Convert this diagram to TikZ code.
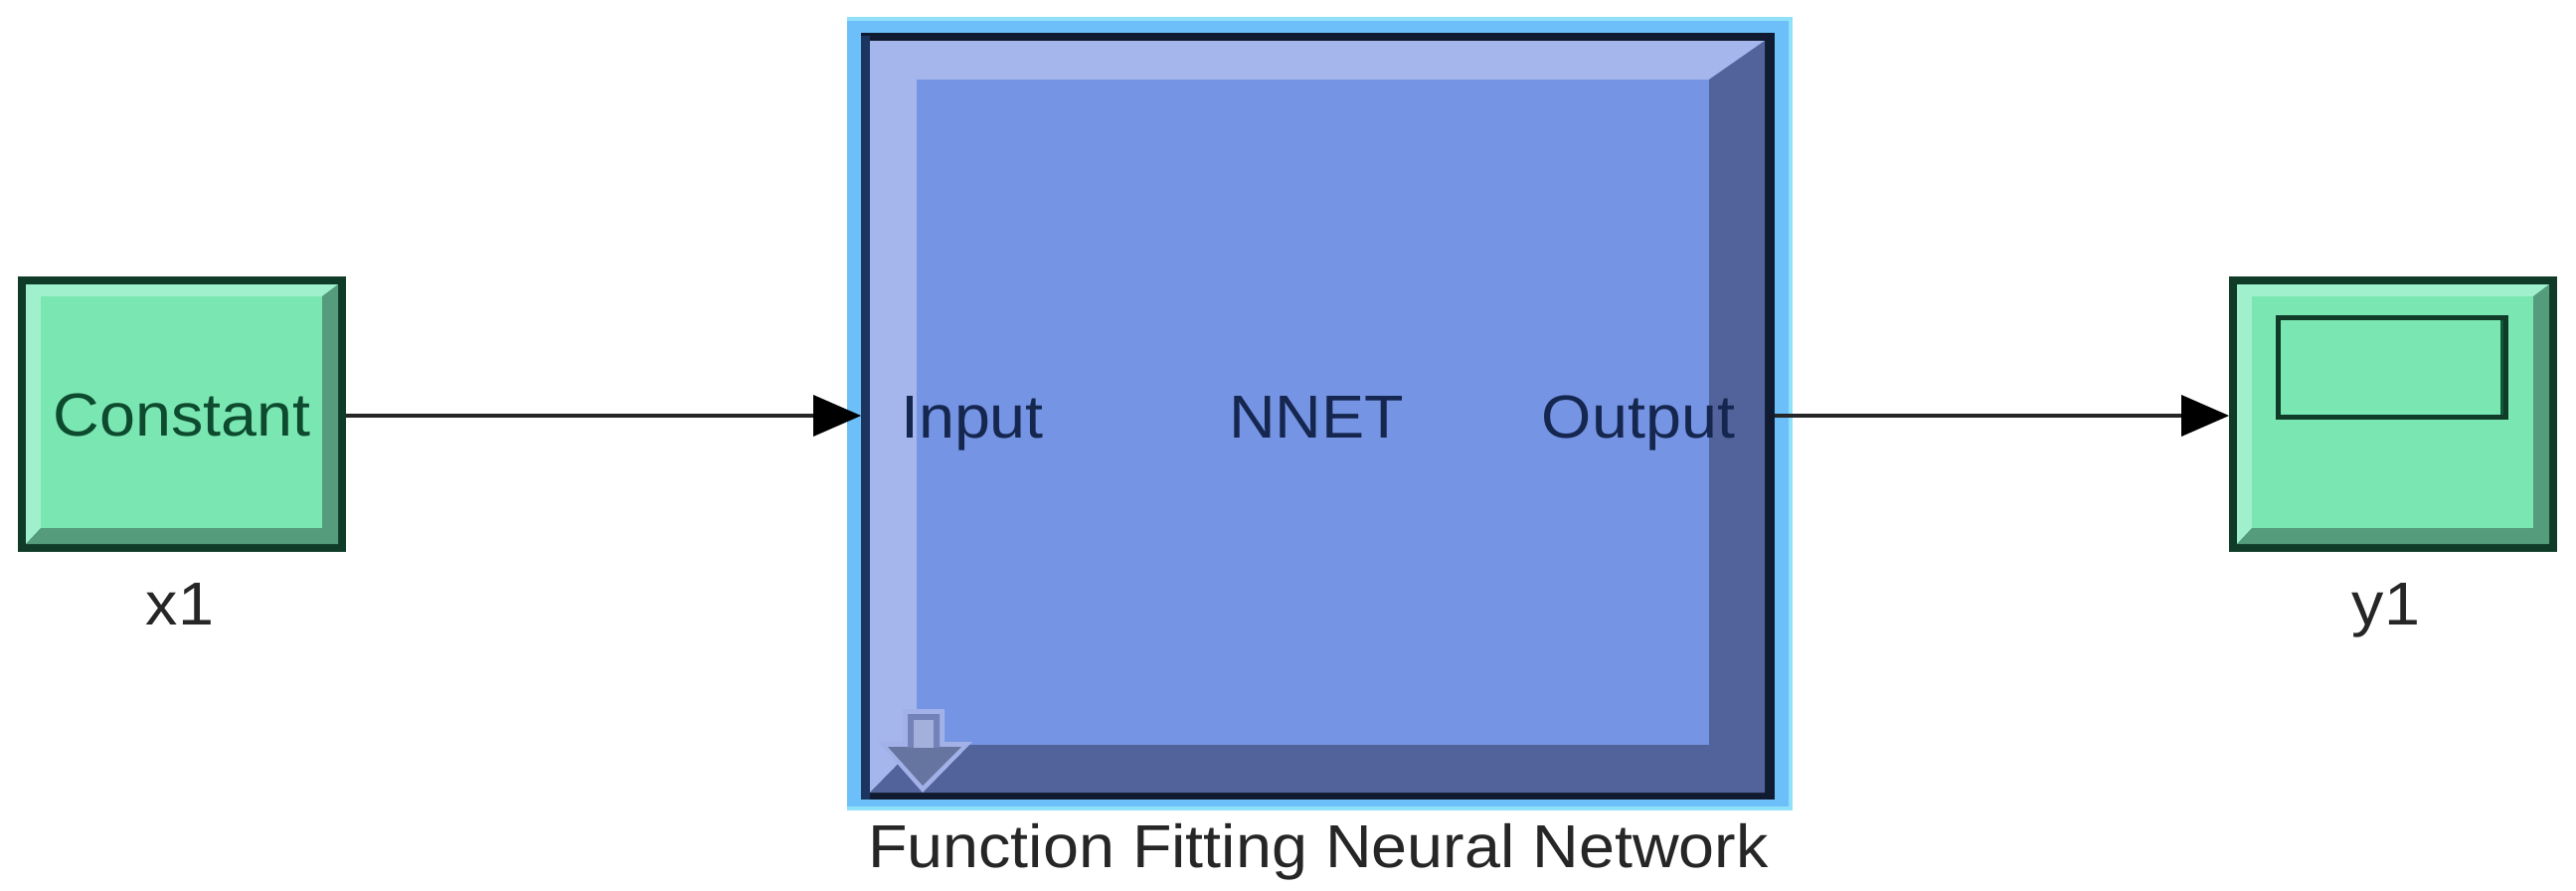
\documentclass[tikz,border=0pt]{standalone}
\usepackage{fontspec}
\setmainfont[FakeStretch=1.06]{Liberation Sans}
\usetikzlibrary{arrows.meta}
\definecolor{mint}{HTML}{7AE7B2}
\definecolor{mintlight}{HTML}{A0F0CE}
\definecolor{mintdark}{HTML}{559C7C}
\definecolor{mintline}{HTML}{0F3B28}
\definecolor{minttext}{HTML}{0D4A2E}
\definecolor{mintshade}{HTML}{0E5A37}
\definecolor{nnface}{HTML}{7594E3}
\definecolor{nnlight}{HTML}{A5B6EC}
\definecolor{nndark}{HTML}{51639A}
\definecolor{nnline}{HTML}{101A30}
\definecolor{nnleft}{HTML}{1B3560}
\definecolor{nntext}{HTML}{15264F}
\definecolor{halo}{HTML}{6CBFF8}
\definecolor{halolight}{HTML}{90E0FA}
\definecolor{txt}{HTML}{262626}
\definecolor{iconrim}{HTML}{A2B2E8}
\definecolor{iconframe}{HTML}{7382B8}
\definecolor{iconstem}{HTML}{A3B0DC}
\definecolor{iconhead}{HTML}{66759F}
\tikzset{
  labeltext/.style={font=\fontsize{30.5}{34}\selectfont, text=txt, inner sep=0pt, anchor=base},
  conn/.style={draw=black!85, line width=1.6pt, -{Triangle[length=24pt,width=21pt,fill=black,color=black,line width=0pt]}},
}
\begin{document}
\begin{tikzpicture}[x=0.5pt,y=-0.5pt]
\useasboundingbox (0,0) rectangle (2591,895);
% --- source block
\fill[mintline] (18,278) rectangle (348,555);
\fill[mintlight] (26,286) rectangle (340,547);
\fill[mintdark] (340,286) -- (324,298) -- (41,531) -- (26,547) -- (340,547) -- cycle;
\fill[mint] (41,298) rectangle (324,531);
\coordinate (src) at (348,418);
% --- NNET block
\fill[halolight] (852,17) rectangle (1803,815);
\fill[halo] (852,21) rectangle (1799,811);
\fill[nnline] (866,33) rectangle (1785,804);
\fill[nnleft] (866,36) rectangle (875,804);
\fill[nnlight] (875,41) rectangle (1775,797);
\fill[nndark] (1775,41) -- (1719,80) -- (922,749) -- (875,797) -- (1775,797) -- cycle;
\fill[nnface] (922,80) rectangle (1719,749);
\coordinate (nnin) at (866,418);
\coordinate (nnout) at (1785,418);
% mask icon
\fill[iconrim] (908,713) -- (950,713) -- (950,746) -- (978,746) -- (928,797) -- (883,746) -- (908,746) -- cycle;
\fill[iconhead] (913,718) -- (945,718) -- (945,751) -- (967,751) -- (928,790) -- (893,751) -- (913,751) -- cycle;
\fill[iconframe] (913,718) rectangle (945,752);
\fill[iconstem] (919,724) rectangle (939,752);
% --- sink block
\fill[mintline] (2242,278) rectangle (2572,555);
\fill[mintlight] (2250,286) rectangle (2564,547);
\fill[mintdark] (2564,286) -- (2548,298) -- (2265,531) -- (2250,547) -- (2564,547) -- cycle;
\fill[mint] (2265,298) rectangle (2548,531);
\draw[mintline,line width=2.4pt,fill=mint] (2291.5,319.5) rectangle (2520.5,419.5);
\fill[mintshade] (2515,322) rectangle (2518,417);
\coordinate (snk) at (2242,418);
% --- connectors
\draw[conn] (src) -- (nnin);
\draw[conn] (nnout) -- (snk);
% --- labels
\node[labeltext,text=minttext] (lconst) at (183,438) {Constant};
\node[labeltext] (lx) at (181,628) {x1};
\node[labeltext,text=nntext] (lin) at (978,440) {Input};
\node[labeltext,text=nntext] (lnn) at (1324,440) {NNET};
\node[labeltext,text=nntext] (lout) at (1648,440) {Output};
\node[labeltext] (ly) at (2400,628) {y1};
\node[labeltext] (lname) at (1326,872) {Function Fitting Neural Network};
\end{tikzpicture}
\end{document}
